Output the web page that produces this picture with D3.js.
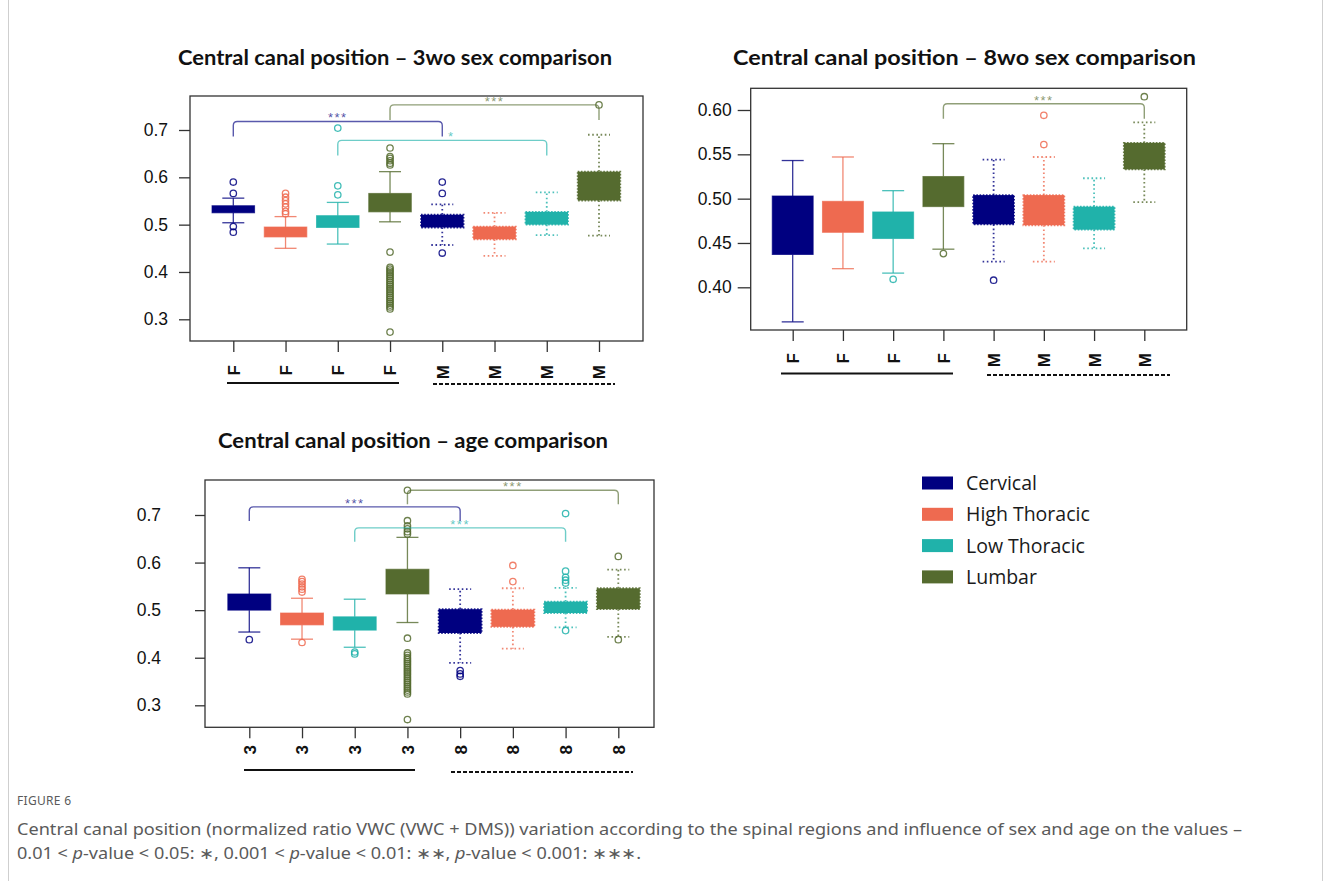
<!DOCTYPE html>
<html>
<head>
<meta charset="utf-8">
<script src="https://cdn.jsdelivr.net/npm/d3@7"></script>
<style>
  html, body { margin: 0; padding: 0; background: #fff; }
  svg { display: block; }
</style>
</head>
<body>
<script>
// Spinal regions and their fill colours
const regions = ["Cervical", "High Thoracic", "Low Thoracic", "Lumbar"];
const regionColors = ["#000080", "#EE6A50", "#20B2AA", "#556B2F"];

// Group labels on the x axis of each panel
const labels3wo = ["F", "F", "F", "F", "M", "M", "M", "M"];
const labels8wo = ["F", "F", "F", "F", "M", "M", "M", "M"];
const labelsAge = ["3", "3", "3", "3", "8", "8", "8", "8"];

// 3wo sex comparison: box (Q1..Q3), whiskers and outliers per group
const q1_3wo = [0.525, 0.474, 0.494, 0.527, 0.494, 0.469, 0.500, 0.551];
const q3_3wo = [0.540, 0.495, 0.519, 0.566, 0.521, 0.496, 0.527, 0.612];
const wLo_3wo = [0.504, 0.450, 0.459, 0.506, 0.457, 0.434, 0.478, 0.477];
const wHi_3wo = [0.556, 0.517, 0.547, 0.612, 0.543, 0.525, 0.568, 0.690];
const out_3wo = [
  [0.590, 0.566, 0.496, 0.484],
  [0.566, 0.558, 0.551, 0.544, 0.537, 0.528, 0.523],
  [0.704, 0.582, 0.563],
  [0.662, 0.644, 0.640, 0.635, 0.630, 0.626, 0.442,
   0.410, 0.406, 0.402, 0.398, 0.394, 0.390, 0.386, 0.382, 0.378, 0.374, 0.370,
   0.366, 0.362, 0.358, 0.354, 0.350, 0.346, 0.342, 0.338, 0.334, 0.330, 0.326, 0.322,
   0.273],
  [0.590, 0.566, 0.440],
  [],
  [],
  [0.753]
];
// [from group, to group, bracket level, stars, region]
const sig_3wo = [
  [0, 4, 0.718, "***", 0],
  [3, 7, 0.753, "***", 3],
  [2, 6, 0.678, "*", 2]
];

// 8wo sex comparison
const q1_8wo = [0.437, 0.462, 0.455, 0.491, 0.471, 0.470, 0.465, 0.533];
const q3_8wo = [0.503, 0.497, 0.485, 0.525, 0.504, 0.504, 0.491, 0.563];
const wLo_8wo = [0.361, 0.421, 0.416, 0.443, 0.429, 0.429, 0.444, 0.496];
const wHi_8wo = [0.543, 0.547, 0.509, 0.562, 0.544, 0.547, 0.523, 0.586];
const out_8wo = [[], [], [0.409], [0.438], [0.408], [0.594, 0.561], [], [0.615]];
const sig_8wo = [
  [3, 7, 0.607, "***", 3]
];

// Age comparison (3wo vs 8wo)
const q1_age = [0.500, 0.469, 0.458, 0.534, 0.452, 0.465, 0.494, 0.502];
const q3_age = [0.534, 0.494, 0.486, 0.586, 0.502, 0.501, 0.518, 0.546];
const wLo_age = [0.454, 0.439, 0.422, 0.474, 0.389, 0.419, 0.464, 0.444];
const wHi_age = [0.589, 0.525, 0.523, 0.653, 0.544, 0.546, 0.547, 0.585];
const out_age = [
  [0.438],
  [0.565, 0.560, 0.555, 0.549, 0.544, 0.538, 0.432],
  [0.412, 0.408],
  [0.752, 0.688, 0.677, 0.671, 0.665, 0.660, 0.441,
   0.410, 0.405, 0.400, 0.396, 0.392, 0.388, 0.384, 0.380, 0.376, 0.372, 0.368,
   0.364, 0.360, 0.356, 0.352, 0.348, 0.344, 0.340, 0.336, 0.332, 0.328, 0.324,
   0.270],
  [0.373, 0.366, 0.361],
  [0.594, 0.560],
  [0.703, 0.582, 0.569, 0.563, 0.557, 0.457],
  [0.613, 0.438]
];
const sig_age = [
  [0, 4, 0.717, "***", 0],
  [3, 7, 0.752, "***", 3],
  [2, 6, 0.673, "***", 2]
];

// Tick values on the y axes
const ticks3 = [0.3, 0.4, 0.5, 0.6, 0.7];
const ticks8 = [0.40, 0.45, 0.50, 0.55, 0.60];

const svg = d3.select("body").append("svg")
  .attr("width", 1331).attr("height", 881);

// thin page frame lines
svg.append("line").attr("x1", 8.5).attr("x2", 8.5).attr("y1", 0).attr("y2", 881)
  .attr("stroke", "#cfcfcf").attr("stroke-width", 1);
svg.append("line").attr("x1", 1322.5).attr("x2", 1322.5).attr("y1", 0).attr("y2", 881)
  .attr("stroke", "#cfcfcf").attr("stroke-width", 1);

function drawPanel(p) {
  const g = svg.append("g");
  const y = d3.scaleLinear().domain(p.yDomain).range(p.yRange);
  const x = d3.scalePoint().domain(d3.range(p.labels.length)).range(p.xRange);
  const step = x.step();
  const bw = step * 0.815;
  const capHalf = 11;

  // title
  g.append("text")
    .attr("x", p.title.x).attr("y", p.title.y)
    .attr("font-family", "Lato, 'Open Sans', sans-serif")
    .attr("font-weight", "bold").attr("font-size", 21.5)
    .attr("fill", "#111")
    .attr("textLength", p.title.w).attr("lengthAdjust", "spacingAndGlyphs")
    .text(p.title.text);

  // boxes
  p.labels.forEach((lab, i) => {
    const c = x(i);
    const col = regionColors[i % 4];
    const dotted = i >= 4;
    const dash = dotted ? "1.6,2.6" : null;
    const wg = g.append("g");
    // whiskers
    [[p.q3[i], p.wHi[i]], [p.q1[i], p.wLo[i]]].forEach(([a, b]) => {
      wg.append("line").attr("x1", c).attr("x2", c)
        .attr("y1", y(a)).attr("y2", y(b))
        .attr("stroke", col).attr("stroke-opacity", 0.8)
        .attr("stroke-width", dotted ? 1.8 : 1.3)
        .attr("stroke-dasharray", dash);
      wg.append("line").attr("x1", c - capHalf).attr("x2", c + capHalf)
        .attr("y1", y(b)).attr("y2", y(b))
        .attr("stroke", col).attr("stroke-opacity", 0.8)
        .attr("stroke-width", dotted ? 1.8 : 1.3)
        .attr("stroke-dasharray", dash);
    });
    // box
    wg.append("rect")
      .attr("x", c - bw / 2).attr("width", bw)
      .attr("y", y(p.q3[i])).attr("height", y(p.q1[i]) - y(p.q3[i]))
      .attr("fill", col);
    wg.append("rect")
      .attr("x", c - bw / 2).attr("width", bw)
      .attr("y", y(p.q3[i])).attr("height", y(p.q1[i]) - y(p.q3[i]))
      .attr("fill", "none").attr("stroke", col)
      .attr("stroke-opacity", dotted ? 0.85 : 0.7)
      .attr("stroke-width", dotted ? 1.8 : 1)
      .attr("stroke-dasharray", dotted ? "1.6,1.6" : null);
    // outliers
    wg.selectAll("circle.o").data(p.out[i]).join("circle")
      .attr("class", "o")
      .attr("cx", c).attr("cy", d => y(d)).attr("r", 3.2)
      .attr("fill", "none").attr("stroke", col)
      .attr("stroke-opacity", 0.85).attr("stroke-width", 1.3);
  });

  // significance brackets
  p.sig.forEach(([a, b, lvl, stars, r], k) => {
    const x1 = x(a), x2 = x(b), yl = y(lvl), yd = yl + p.leg, rr = 4;
    const col = regionColors[r];
    const path = d3.path();
    path.moveTo(x1, yd);
    path.lineTo(x1, yl + rr);
    path.quadraticCurveTo(x1, yl, x1 + rr, yl);
    path.lineTo(x2 - rr, yl);
    path.quadraticCurveTo(x2, yl, x2, yl + rr);
    path.lineTo(x2, yd);
    g.append("path").attr("d", path.toString())
      .attr("fill", "none").attr("stroke", col)
      .attr("stroke-opacity", 0.65).attr("stroke-width", 1.4);
    const shift = (p.starShift && p.starShift[k]) || 0;
    g.append("text")
      .attr("x", (x1 + x2) / 2 + shift).attr("y", yl + 1)
      .attr("text-anchor", "middle")
      .attr("font-family", "'Liberation Sans', Arial, sans-serif")
      .attr("font-size", 13).attr("letter-spacing", 1.5)
      .attr("fill", col).attr("fill-opacity", 0.7)
      .text(stars);
  });

  // frame
  g.append("rect")
    .attr("x", p.frame[0]).attr("y", p.frame[1])
    .attr("width", p.frame[2] - p.frame[0]).attr("height", p.frame[3] - p.frame[1])
    .attr("fill", "none").attr("stroke", "#333").attr("stroke-width", 1.3);

  // y axis
  const ya = g.append("g")
    .attr("transform", `translate(${p.frame[0]},0)`)
    .call(d3.axisLeft(y).tickValues(p.yTicks).tickFormat(d3.format(p.fmt))
      .tickSize(p.yTick).tickPadding(p.yPad));
  ya.select(".domain").remove();
  ya.selectAll(".tick line").attr("stroke", "#333").attr("stroke-width", 1.3);
  ya.selectAll(".tick text")
    .attr("font-family", "'Liberation Sans', Arial, sans-serif")
    .attr("font-size", 17.5).attr("fill", "#111");

  // x axis with rotated labels
  const xa = g.append("g")
    .attr("transform", `translate(0,${p.frame[3]})`)
    .call(d3.axisBottom(x).tickSize(p.xTick).tickFormat(i => p.labels[i]));
  xa.select(".domain").remove();
  xa.selectAll(".tick line").attr("stroke", "#333").attr("stroke-width", 1.3);
  xa.selectAll(".tick text")
    .attr("font-family", "'Liberation Sans', Arial, sans-serif")
    .attr("font-size", 17).attr("font-weight", "bold").attr("fill", "#111")
    .attr("text-anchor", "end")
    .attr("transform", `translate(0,${p.labEnd - p.frame[3]}) rotate(-90)`)
    .attr("x", 0).attr("y", 0).attr("dy", "0.35em");

  // group underlines
  g.append("line").attr("x1", p.solid[0]).attr("x2", p.solid[1])
    .attr("y1", p.solid[2]).attr("y2", p.solid[2])
    .attr("stroke", "#111").attr("stroke-width", 2.2);
  g.append("line").attr("x1", p.dashed[0]).attr("x2", p.dashed[1])
    .attr("y1", p.dashed[2]).attr("y2", p.dashed[2])
    .attr("stroke", "#111").attr("stroke-width", 2.2)
    .attr("stroke-dasharray", "4,2");
}

drawPanel({
  title: { text: "Central canal position – 3wo sex comparison", x: 178, y: 65, w: 434 },
  labels: labels3wo, q1: q1_3wo, q3: q3_3wo, wLo: wLo_3wo, wHi: wHi_3wo, out: out_3wo, sig: sig_3wo,
  yDomain: [0.3, 0.7], yRange: [319.3, 130], yTicks: ticks3, fmt: ".1f",
  xRange: [233.3, 599], frame: [190, 96, 643, 341],
  yTick: 11, yPad: 11, xTick: 11, labEnd: 365, leg: 15,
  starShift: [0, 0, 9],
  solid: [227, 399, 383], dashed: [433, 615, 384]
});

drawPanel({
  title: { text: "Central canal position – 8wo sex comparison", x: 733, y: 65, w: 463 },
  labels: labels8wo, q1: q1_8wo, q3: q3_8wo, wLo: wLo_8wo, wHi: wHi_8wo, out: out_8wo, sig: sig_8wo,
  yDomain: [0.40, 0.60], yRange: [287.3, 110], yTicks: ticks8, fmt: ".2f",
  xRange: [792.7, 1144.3], frame: [750.7, 88.3, 1186.7, 330],
  yTick: 13, yPad: 6, xTick: 11, labEnd: 353, leg: 15,
  solid: [781, 953, 373.5], dashed: [987, 1170, 375]
});

drawPanel({
  title: { text: "Central canal position – age comparison", x: 218, y: 448, w: 390 },
  labels: labelsAge, q1: q1_age, q3: q3_age, wLo: wLo_age, wHi: wHi_age, out: out_age, sig: sig_age,
  yDomain: [0.3, 0.7], yRange: [705.3, 515], yTicks: ticks3, fmt: ".1f",
  xRange: [249.3, 618.3], frame: [205, 480, 654, 727.3],
  yTick: 10, yPad: 34, xTick: 11, labEnd: 745, leg: 14,
  solid: [244, 415, 770], dashed: [451, 633, 772]
});

// legend
const legend = svg.append("g");
regions.forEach((r, i) => {
  const cy = 483 + i * 31.3;
  legend.append("rect").attr("x", 922).attr("y", cy - 6.5)
    .attr("width", 31).attr("height", 13).attr("fill", regionColors[i]);
  legend.append("text").attr("x", 966).attr("y", cy + 7)
    .attr("font-family", "'Open Sans', Lato, sans-serif")
    .attr("font-size", 19.5).attr("fill", "#1a1a1a")
    .text(r);
});

// caption
const cap = svg.append("g")
  .attr("font-family", "'Noto Sans', 'Open Sans', sans-serif")
  .attr("fill", "#5a5a5a");
cap.append("text").attr("x", 17).attr("y", 805)
  .attr("font-size", 12).attr("letter-spacing", 0.3)
  .text("FIGURE 6");
cap.append("text").attr("x", 17).attr("y", 835)
  .attr("font-size", 16)
  .attr("textLength", 1225).attr("lengthAdjust", "spacingAndGlyphs")
  .text("Central canal position (normalized ratio VWC (VWC + DMS)) variation according to the spinal regions and influence of sex and age on the values –");
const l2 = cap.append("text").attr("x", 17).attr("y", 859)
  .attr("font-size", 16)
  .attr("textLength", 624).attr("lengthAdjust", "spacingAndGlyphs");
l2.append("tspan").text("0.01 < ");
l2.append("tspan").attr("font-style", "italic").text("p");
l2.append("tspan").text("-value < 0.05: ∗, 0.001 < ");
l2.append("tspan").attr("font-style", "italic").text("p");
l2.append("tspan").text("-value < 0.01: ∗∗, ");
l2.append("tspan").attr("font-style", "italic").text("p");
l2.append("tspan").text("-value < 0.001: ∗∗∗.");
</script>
</body>
</html>
